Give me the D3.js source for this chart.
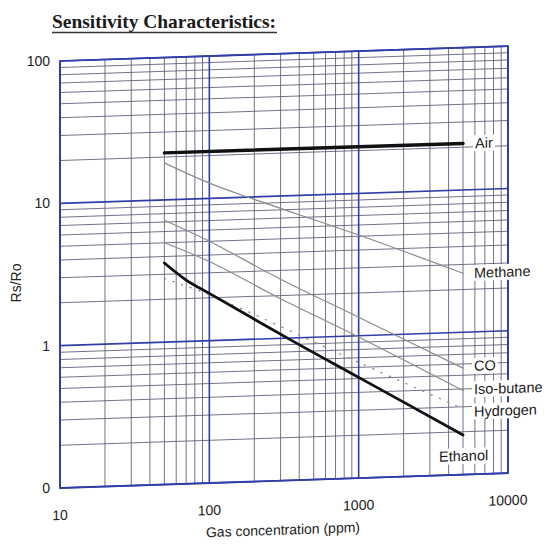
<!DOCTYPE html>
<html>
<head>
<meta charset="utf-8">
<script src="https://cdn.jsdelivr.net/npm/d3@7"></script>
<style>
  body { margin: 0; background: #fff; }
  svg { display: block; }
</style>
</head>
<body>
<svg id="viz" width="558" height="547"></svg>
<script>
// values
const xTicks = [10, 100, 1000, 10000]
const yTicks = [0.1, 1, 10, 100]
const yTickLabels = ["0", "1", "10", "100"]

const airPpm = [50, 5000]
const airRatio = [21.4, 21.2]
const methanePpm = [50, 100, 200, 1000, 5000]
const methaneRatio = [18.2, 12.8, 9.6, 5.1, 2.6]
const coPpm = [50, 100, 300, 1000, 5000]
const coRatio = [7.2, 5.0, 2.6, 1.35, 0.56]
const isoButanePpm = [50, 100, 300, 1000, 5000]
const isoButaneRatio = [5.0, 3.6, 1.9, 0.98, 0.39]
const hydrogenPpm = [50, 100, 1000, 5000]
const hydrogenRatio = [2.8, 2.1, 0.65, 0.29]
const ethanolPpm = [50, 70, 100, 350, 1000, 5000]
const ethanolRatio = [3.6, 2.7, 2.15, 0.97, 0.51, 0.19]

let plotLeft = 60, plotRight = 508, plotTop = 61, plotBottom = 488
let skew = -1.9  // the scan is slightly sheared

let svg = d3.select("#viz")

let x = d3.scaleLog().domain([10, 10000]).range([plotLeft, plotRight])
let y = d3.scaleLog().domain([0.1, 100]).range([plotBottom, plotTop])

// title
svg.append("text")
    .attr("x", 52).attr("y", 28)
    .attr("font-family", "'Liberation Serif', 'DejaVu Serif', serif")
    .attr("font-weight", "bold")
    .attr("font-size", 19)
    .attr("textLength", 224)
    .attr("lengthAdjust", "spacingAndGlyphs")
    .attr("fill", "#1a1a1a")
    .text("Sensitivity Characteristics:")
svg.append("line")
    .attr("x1", 52).attr("x2", 277).attr("y1", 32.5).attr("y2", 32.5)
    .style("stroke", "#333").style("stroke-width", 1.3)

let plot = svg.append("g")
    .attr("transform", `translate(${plotLeft},0) skewY(${skew}) translate(${-plotLeft},0)`)

// grid
function minors(lo, hi) {
    let out = []
    for (let d = lo; d < hi; d *= 10)
        for (let k = 2; k <= 9; k++) out.push(d * k)
    return out
}
let minorColor = "#625874", majorColor = "#2f3ea8"

plot.append("g").selectAll("line")
    .data(minors(10, 10000))
    .enter().append("line")
    .attr("x1", d => x(d)).attr("x2", d => x(d))
    .attr("y1", plotTop).attr("y2", plotBottom)
    .style("stroke", minorColor).style("stroke-width", 1).style("opacity", 0.85)

plot.append("g").selectAll("line")
    .data(minors(0.1, 100))
    .enter().append("line")
    .attr("x1", plotLeft).attr("x2", plotRight)
    .attr("y1", d => y(d)).attr("y2", d => y(d))
    .style("stroke", minorColor).style("stroke-width", 1).style("opacity", 0.85)

plot.append("g").selectAll("line")
    .data(xTicks)
    .enter().append("line")
    .attr("x1", d => x(d)).attr("x2", d => x(d))
    .attr("y1", plotTop).attr("y2", plotBottom)
    .style("stroke", majorColor).style("stroke-width", 1.6)

plot.append("g").selectAll("line")
    .data(yTicks)
    .enter().append("line")
    .attr("x1", plotLeft).attr("x2", plotRight)
    .attr("y1", d => y(d)).attr("y2", d => y(d))
    .style("stroke", majorColor).style("stroke-width", 1.6)

plot.append("rect")
    .attr("x", plotLeft).attr("y", plotTop)
    .attr("width", plotRight - plotLeft).attr("height", plotBottom - plotTop)
    .style("fill", "none").style("stroke", majorColor).style("stroke-width", 1.8)

// series
let series = [
    {name: "Air",        ppm: airPpm,       ratio: airRatio,       color: "#111", width: 3.4, dash: null},
    {name: "Methane",    ppm: methanePpm,   ratio: methaneRatio,   color: "#8c8c8c", width: 1.2, dash: null},
    {name: "CO",         ppm: coPpm,        ratio: coRatio,        color: "#8c8c8c", width: 1.2, dash: null},
    {name: "Iso-butane", ppm: isoButanePpm, ratio: isoButaneRatio, color: "#8c8c8c", width: 1.2, dash: null},
    {name: "Hydrogen",   ppm: hydrogenPpm,  ratio: hydrogenRatio,  color: "#8a8a8a", width: 1.3, dash: "1.2,8"},
    {name: "Ethanol",    ppm: ethanolPpm,   ratio: ethanolRatio,   color: "#111", width: 2.8, dash: null}
]

let line = d3.line()
    .x(d => x(d[0]))
    .y(d => y(d[1]))
    .curve(d3.curveCatmullRom.alpha(0.5))

plot.append("g").selectAll("path")
    .data(series)
    .enter().append("path")
    .attr("d", s => line(s.ppm.map((p, i) => [p, s.ratio[i]])))
    .style("fill", "none")
    .style("stroke", s => s.color)
    .style("stroke-width", s => s.width)
    .style("stroke-dasharray", s => s.dash)
    .style("stroke-linecap", "round")

// series labels, placed next to the line ends
let labelShift = {"Air": [12, 0], "Methane": [11, 0], "CO": [11, -2], "Iso-butane": [11, -1], "Hydrogen": [11, 3], "Ethanol": [-24, 21]}

let gLabels = plot.append("g").selectAll("g")
    .data(series)
    .enter().append("g")
    .attr("transform", s => {
        let n = s.ppm.length - 1
        let sh = labelShift[s.name]
        return `translate(${x(s.ppm[n]) + sh[0]},${y(s.ratio[n]) + sh[1]})`
    })

gLabels.append("text")
    .attr("dy", "0.35em")
    .attr("font-family", "'Liberation Sans', Arial, sans-serif")
    .attr("font-size", 14.5)
    .attr("fill", "#1a1a1a")
    .text(s => s.name)

gLabels.insert("rect", "text")
    .each(function () {
        let b = this.parentNode.querySelector("text").getBBox()
        d3.select(this)
            .attr("x", b.x - 2).attr("y", b.y)
            .attr("width", b.width + 4).attr("height", b.height)
    })
    .style("fill", "#fff")

// axis labels
plot.append("g").selectAll("text")
    .data(xTicks)
    .enter().append("text")
    .attr("x", d => x(d))
    .attr("y", plotBottom + 32)
    .attr("text-anchor", "middle")
    .attr("font-family", "'Liberation Sans', Arial, sans-serif")
    .attr("font-size", 14)
    .attr("fill", "#222")
    .text(d => d)

plot.append("text")
    .attr("x", 283)
    .attr("y", plotBottom + 54)
    .attr("text-anchor", "middle")
    .attr("font-family", "'Liberation Sans', Arial, sans-serif")
    .attr("font-size", 14)
    .attr("fill", "#222")
    .text("Gas concentration (ppm)")

svg.append("g").selectAll("text")
    .data(yTicks)
    .enter().append("text")
    .attr("x", 50)
    .attr("y", d => y(d))
    .attr("dy", "0.35em")
    .attr("text-anchor", "end")
    .attr("font-family", "'Liberation Sans', Arial, sans-serif")
    .attr("font-size", 14)
    .attr("fill", "#222")
    .text((d, i) => yTickLabels[i])

svg.append("text")
    .attr("transform", "translate(21,283) rotate(-90)")
    .attr("text-anchor", "middle")
    .attr("font-family", "'Liberation Sans', Arial, sans-serif")
    .attr("font-size", 14)
    .attr("fill", "#222")
    .text("Rs/Ro")
</script>
</body>
</html>
